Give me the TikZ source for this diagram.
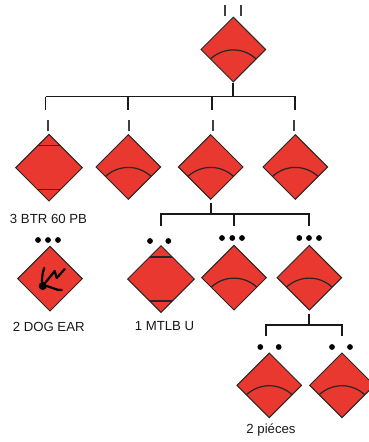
\documentclass[tikz,border=0pt]{standalone}
\usepackage{fontspec}
\setmainfont{Liberation Sans}
\usetikzlibrary{shapes.geometric,positioning}
\definecolor{unitred}{RGB}{233,56,47}

\tikzset{
  unit/.style={diamond,aspect=1,draw=black!85,line width=1pt,fill=unitred,inner sep=0pt,minimum size=65pt},
  arcunit/.style={unit,path picture={
      \draw[line width=1.2pt] ([shift={(-22.7pt,-9.3pt)}]path picture bounding box.center)
        to[bend left=42] ([shift={(22.7pt,-9.3pt)}]path picture bounding box.center);}},
  barunit/.style={unit,minimum size=67pt,path picture={
      \draw[line width=1.2pt] ([shift={(-15pt,22pt)}]path picture bounding box.center) -- ++(30pt,0pt);
      \draw[line width=1.2pt] ([shift={(-15pt,-22pt)}]path picture bounding box.center) -- ++(30pt,0pt);}},
  bus/.style={line width=1.9pt,black!90},
  tick/.style={line width=1.7pt,black!75},
  pip/.style={circle,fill=black,inner sep=0pt,minimum size=5.8pt},
  rocket/.style={line width=2.2pt,line cap=round,line join=round},
  caption/.style={font=\fontsize{13.2pt}{15pt}\selectfont,text=black!90,inner sep=0pt}
}

\begin{document}
\begin{tikzpicture}[node distance=80pt,on grid]
    \useasboundingbox (0,0) rectangle (369pt,-442pt);

    % top unit and first row
    \node[arcunit] (hq) at (233.3pt,-49.5pt) {};
    \node[barunit] (btr) at (49pt,-167.7pt) {};
    \node[arcunit] (coa) at (128.3pt,-167pt) {};
    \node[arcunit] (cob) [right=82.4pt of coa] {};
    \node[arcunit] (coc) [right=84.6pt of cob] {};

    % second row
    \node[unit] (dog) at (50pt,-278.7pt) {};
    \node[barunit] (mtlb) at (161pt,-279pt) {};
    \node[arcunit] (seca) at (234pt,-277.7pt) {};
    \node[arcunit] (secb) [right=75.3pt of seca] {};

    % third row
    \node[arcunit] (pca) at (269.3pt,-385.3pt) {};
    \node[arcunit] (pcb) [right=72.7pt of pca] {};

    % rocket launcher sign
    \fill (dog.center) ++(-7.3pt,-7.3pt) coordinate (ball) circle (4pt);
    \draw[rocket] (ball) .. controls +(-1.5pt,6pt) and +(-2pt,-6pt) .. +(1.5pt,18pt);
    \draw[rocket] (ball) -- +(12pt,15pt) -- +(14pt,8pt) -- +(22pt,17pt);
    \draw[rocket] (ball) .. controls +(7pt,1pt) and +(-6pt,-1pt) .. +(19pt,-4pt);

    % buses
    \coordinate (hqbus) at (hq.south |- 0,-96.5pt);
    \coordinate (btrtop) at (45.5pt,-96.5pt);
    \coordinate (cocbus) at (coc.north |- hqbus);
    \draw[bus] (hq.south) -- (hqbus);
    \draw[bus] (btrtop) -- ++(0pt,-13.5pt) coordinate (btrend);
    \draw[bus] (btrtop) -- (cocbus) -- ++(0pt,-13.5pt) coordinate (cocend);
    \draw[bus] (coa.north |- hqbus) -- ++(0pt,-13.5pt) coordinate (coaend);
    \draw[bus] (211.7pt,-96.5pt) -- ++(0pt,-13.5pt) coordinate (cobend);

    \coordinate (cobbus) at (cob.south |- 0,-214.3pt);
    \draw[bus] (cob.south) ++(0pt,-3pt) -- (cobbus);
    \draw[bus] (mtlb.north |- cobbus) ++(0pt,-12pt) -- (mtlb.north |- cobbus) -- (secb.north |- cobbus) -- ++(0pt,-12pt);
    \draw[bus] (seca.north |- cobbus) -- ++(0pt,-12pt);

    \coordinate (secbus) at (secb.south |- 0,-325.3pt);
    \draw[bus] (secb.south) ++(0pt,-3.5pt) -- (secbus);
    \draw[bus] (266.3pt,-336pt) -- (266.3pt,-325.3pt) -- (pcb.north |- secbus) -- ++(0pt,-10.7pt);

    % ticks
    \foreach \tx in {225pt,240.7pt}
      \draw[tick] (\tx,-4.5pt) -- (\tx,-15.7pt);
    \foreach \tx in {47.7pt,129.3pt,212.7pt,294.3pt}
      \draw[tick] (\tx,-119.5pt) -- (\tx,-131pt);

    % pips
    \foreach \px/\py in {38/240,48/240,58/240,150/241,168.3/241,222/238,232.3/238,242/238,
        299.3/238,309/238,319/238,260.3/347,278.7/347,332/347,350/347}
      \node[pip] at (\px pt,-\py pt) {};

    % captions
    \node[caption] (btrlabel) at (48.5pt,-219pt) {3 BTR 60 PB};
    \node[caption] (doglabel) at (48.7pt,-326.5pt) {2 DOG EAR};
    \node[caption] (mtlblabel) at (164.5pt,-326.5pt) {1 MTLB U};
    \node[caption] (pclabel) at (271pt,-430.5pt) {2 piéces};
\end{tikzpicture}
\end{document}
